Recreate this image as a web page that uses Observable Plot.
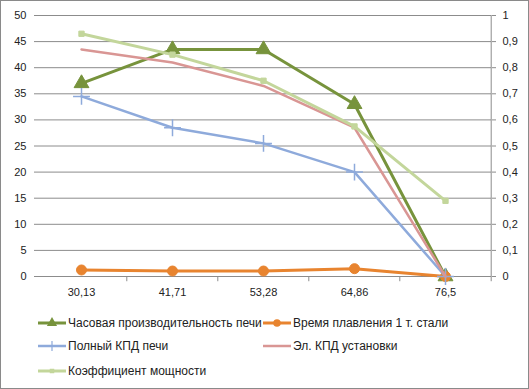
<!DOCTYPE html>
<html><head><meta charset="utf-8">
<script src="https://cdn.jsdelivr.net/npm/d3@7"></script>
<script src="https://cdn.jsdelivr.net/npm/@observablehq/plot@0.6"></script>
<style>
body{margin:0;background:#fff;}
#wrap{position:relative;width:529px;height:389px;overflow:hidden;font-family:"Liberation Sans",Arial,sans-serif;background:#fff;}
#border{position:absolute;left:0;top:0;width:529px;height:389px;box-sizing:border-box;border:1px solid #8a8a8a;pointer-events:none;}
#legend{position:absolute;left:0;top:300px;width:529px;height:89px;font-size:12px;color:#222;}
.item{position:absolute;display:flex;align-items:center;height:14px;white-space:nowrap;}
.item svg{margin-right:2px;}
</style></head><body>
<div id="wrap"><div id="chart"></div><div id="legend"></div><div id="border"></div></div>
<script>
// ---- data ----
const categories = ["30,13", "41,71", "53,28", "64,86", "76,5"];
const hourlyOutput = [37, 43.5, 43.5, 33, 0];          // left axis
const meltTime = [1.25, 1.05, 1.05, 1.5, 0];           // left axis
const totalEff = [0.69, 0.57, 0.51, 0.40, 0];          // right axis
const elEff = [0.87, 0.82, 0.73, 0.57, 0];             // right axis
const powerFactor = [0.93, 0.85, 0.75, 0.575, 0.29];   // right axis
const leftTicks = [0, 5, 10, 15, 20, 25, 30, 35, 40, 45, 50];
const rightTicks = [0, 0.1, 0.2, 0.3, 0.4, 0.5, 0.6, 0.7, 0.8, 0.9, 1];
const seriesNames = ["Часовая производительность печи", "Время плавления 1 т. стали", "Полный КПД печи", "Эл. КПД установки", "Коэффициент мощности"];

const leftMax = 50, rightMax = 1;
const series = [
  {name: seriesNames[0], values: hourlyOutput, axis: "left", color: "#77933c", width: 3, symbol: "triangle", r: 5.5, fill: true},
  {name: seriesNames[1], values: meltTime, axis: "left", color: "#e8842f", width: 3, symbol: "circle", r: 5, fill: true},
  {name: seriesNames[2], values: totalEff, axis: "right", color: "#8eaadb", width: 2.5, symbol: "plus", r: 5.5, fill: false},
  {name: seriesNames[3], values: elEff, axis: "right", color: "#d99694", width: 2.5, symbol: null},
  {name: seriesNames[4], values: powerFactor, axis: "right", color: "#c3d69b", width: 3, symbol: "square", r: 3, fill: true}
];
const table = series.flatMap((s, si) => s.values.map((v, i) => ({
  series: s.name, si, cat: categories[i], value: v,
  y: s.axis === "left" ? v : v * leftMax / rightMax
})));

const W = 529, H = 300, mL = 34, mR = 38, mT = 15, mB = 24;
const step = (W - mL - mR) / categories.length;
const grey = "#8c8c8c";
const fontFam = '"Liberation Sans", Arial, sans-serif';

const marks = [
  Plot.ruleY(leftTicks, {y: d => d, stroke: grey, strokeWidth: 1}),
  Plot.ruleX(categories.slice(1), {x: d => d, dx: -step / 2, y1: 0, y2: -1, stroke: grey}),
  Plot.ruleX([categories[categories.length - 1]], {x: d => d, dx: step / 2, y1: -1, y2: leftMax, stroke: grey}),
  Plot.axisY({ticks: leftTicks, tickSize: 0, tickPadding: 8, tickFormat: d => String(d), fontSize: 11, fill: "#222"}),
  Plot.axisY({anchor: "right", ticks: leftTicks, tickSize: 4, tickPadding: 7, stroke: grey,
    tickFormat: d => d3.format("~g")(+(d * rightMax / leftMax).toFixed(2)).replace(".", ","), fontSize: 11, fill: "#222", label: null}),
  Plot.axisX({tickSize: 0, tickPadding: 12, fontSize: 11, fill: "#222", label: null})
];
series.forEach((s, si) => {
  const data = table.filter(d => d.si === si);
  marks.push(Plot.line(data, {x: "cat", y: "y", stroke: s.color, strokeWidth: s.width}));
  if (s.symbol) {
    marks.push(Plot.dot(data, {x: "cat", y: "y", symbol: s.symbol, r: s.r,
      fill: s.fill ? s.color : "none", stroke: s.color, strokeWidth: s.fill ? 1 : 1.5}));
  }
});

const plot = Plot.plot({
  width: W, height: H, marginLeft: mL, marginRight: mR, marginTop: mT, marginBottom: mB,
  style: {fontFamily: fontFam, fontSize: "11px", background: "transparent"},
  x: {type: "point", domain: categories, padding: 0.5, label: null},
  y: {domain: [0, leftMax], label: null},
  marks
});
document.getElementById("chart").appendChild(plot);

// ---- legend ----
const legendPos = [[38, 316], [263, 316], [38, 339], [263, 339], [38, 364]];
const legend = d3.select("#legend");
series.forEach((s, i) => {
  const item = legend.append("div").attr("class", "item")
    .style("left", legendPos[i][0] + "px").style("top", (legendPos[i][1] - 300) + "px");
  const svg = item.append("svg").attr("width", 28).attr("height", 12);
  svg.append("line").attr("x1", 0).attr("x2", 28).attr("y1", 6).attr("y2", 6)
    .attr("stroke", s.color).attr("stroke-width", s.width);
  if (s.symbol) {
    const symMap = {triangle: d3.symbolTriangle, circle: d3.symbolCircle, plus: d3.symbolCross, square: d3.symbolSquare};
    if (s.symbol === "plus") {
      svg.append("path").attr("d", "M14,1V11M9,6H19").attr("stroke", s.color).attr("stroke-width", 1.2).attr("fill", "none");
    } else {
      svg.append("path").attr("transform", "translate(14,6)")
        .attr("d", d3.symbol(symMap[s.symbol], s.symbol === "square" ? 20 : 45)())
        .attr("fill", s.color);
    }
  }
  item.append("span").text(s.name);
});
</script>
</body></html>
